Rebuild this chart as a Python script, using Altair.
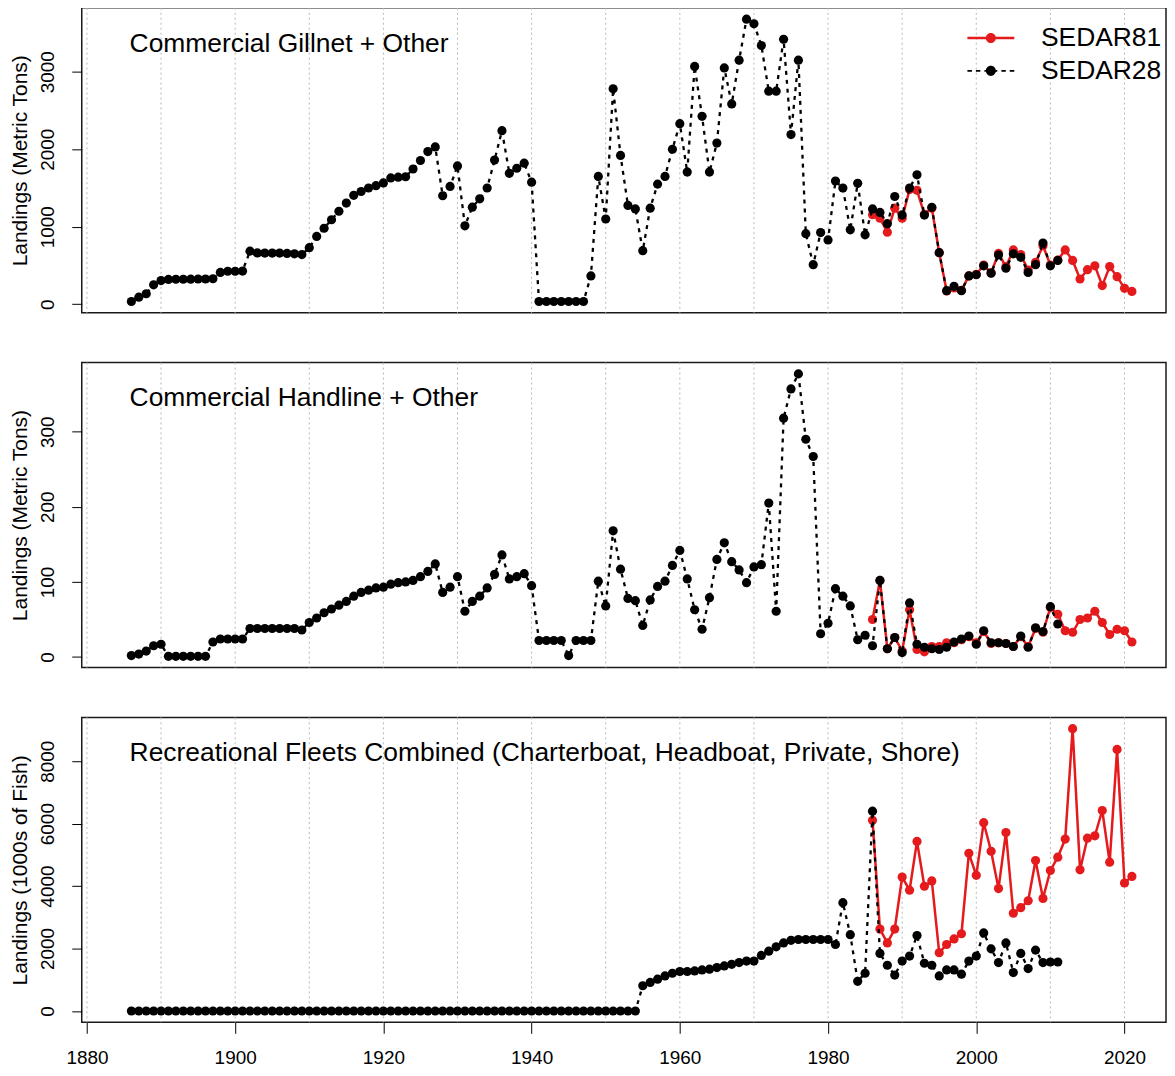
import altair as alt
import pandas as pd

FONT = "Liberation Sans"
RED = "#e41a1c"

# ---------------- data ----------------
years_s28 = list(range(1886, 2012))
years_s81 = list(range(1986, 2022))

gill_s28 = [
    35, 90, 135, 250, 305,
    320, 322, 322, 323, 325, 325, 328,
    410, 425, 425, 428,
    685, 662, 660, 660, 660, 655, 650, 640,
    730, 875, 980, 1090, 1200, 1305, 1405, 1455, 1500, 1530,
    1565, 1630, 1640, 1645, 1745, 1855, 1970, 2030, 1400, 1520,
    1785, 1012, 1253, 1360, 1500, 1860, 2240, 1690, 1755, 1820,
    1575, 35, 35, 35, 35, 35, 35, 35, 365, 1650,
    1100, 2780, 1920, 1275, 1230, 690, 1240, 1550, 1650, 2000,
    2330, 1705, 3070, 2425, 1705, 2080, 3050, 2585, 3150, 3680,
    3620, 3340, 2750, 2750, 3420, 2190, 3150, 910, 510, 925,
    830, 1590, 1500, 960, 1560, 895, 1230, 1185, 1040, 1390,
    1150, 1500, 1670, 1150, 1250, 665, 175, 230, 175, 365,
    380, 495, 400, 635, 465, 650, 605, 410, 510, 790,
    495, 565,
]
gill_s81 = [
    1155, 1110, 930, 1240, 1110, 1480, 1470, 1160, 1240, 665,
    170, 210, 180, 365, 385, 505, 405, 655, 485, 700,
    640, 440, 540, 755, 505, 570, 700, 565, 325, 445,
    495, 240, 485, 355, 205, 165,
]

hand_s28 = [
    2, 4, 8, 15, 17,
    1, 1, 1, 1, 1, 1, 20,
    24, 24, 24, 24,
    38, 38, 38, 38, 38, 38, 38, 36,
    46, 52, 59, 64, 69, 74, 81, 86, 89, 92,
    93, 97, 99, 100, 102, 107, 114, 124, 86, 93,
    107, 61, 74, 81, 92, 110, 136, 104, 107, 111,
    95, 22, 22, 22, 22, 2, 22, 22, 22, 101,
    68, 168, 117, 78, 75, 42, 76, 94, 101, 122,
    142, 104, 63, 37, 79, 130, 152, 127, 116, 99,
    120, 123, 205, 61, 318, 357, 377, 290, 267, 31,
    45, 91, 81, 68, 23, 29, 15, 102, 11, 26,
    6, 72, 17, 13, 11, 10, 13, 20, 24, 28,
    17, 35, 19, 19, 18, 14, 28, 13, 39, 34,
    67, 44,
]
hand_s81 = [
    50, 102, 11, 26, 8, 63, 10, 7, 14, 14,
    19, 19, 23, 27, 19, 34, 18, 19, 18, 14,
    27, 14, 38, 33, 66, 57, 35, 33, 50, 52,
    61, 46, 30, 37, 35, 20,
]

rec_s28 = [
    0, 0, 0, 0, 0, 0, 0, 0, 0, 0,
    0, 0, 0, 0, 0, 0, 0, 0, 0, 0,
    0, 0, 0, 0, 0, 0, 0, 0, 0, 0,
    0, 0, 0, 0, 0, 0, 0, 0, 0, 0,
    0, 0, 0, 0, 0, 0, 0, 0, 0, 0,
    0, 0, 0, 0, 0, 0, 0, 0, 0, 0,
    0, 0, 0, 0, 0, 0, 0, 0, 0,
    810, 915, 1020, 1125, 1210, 1265, 1265, 1285, 1315, 1340,
    1390, 1445, 1495, 1550, 1600, 1600, 1780, 1915, 2055, 2180,
    2265, 2290, 2290, 2290, 2290, 2290, 2130, 3470, 2445, 950,
    1210, 6400, 1845, 1465, 1150, 1600, 1760, 2415, 1530, 1465,
    1125, 1315, 1315, 1180, 1600, 1760, 2500, 1990, 1550, 2180,
    1230, 1845, 1360, 1950, 1550, 1570, 1570,
]
rec_s81 = [
    6105, 2625, 2180, 2625, 4290, 3870, 5430, 3995, 4165, 1865,
    2130, 2310, 2475, 5050, 4345, 6030, 5115, 3920, 5715, 3130,
    3310, 3530, 4820, 3605, 4500, 4925, 5505, 9040, 4520, 5535,
    5610, 6420, 4765, 8375, 4100, 4310,
]

series_names = ["SEDAR81", "SEDAR28"]
grid_years = list(range(1880, 2021, 10))
x_tick_years = list(range(1880, 2021, 20))
ticks_gill = [0, 1000, 2000, 3000]
ticks_hand = [0, 100, 200, 300]
ticks_rec = [0, 2000, 4000, 6000, 8000]

# ---------------- styling ----------------
X_DOMAIN = [1879.3, 2025.6]
W, H = 1088, 306

PATH_81 = ("M-1.96,-0.1H1.96V0.1H-1.96Z "
           "M0.42,0A0.42,0.42,0,1,1,-0.42,0A0.42,0.42,0,1,1,0.42,0Z")
PATH_28 = ("M-1.96,-0.07H-1.58V0.07H-1.96Z M-1.25,-0.07H-0.88V0.07H-1.25Z "
           "M-0.54,-0.07H0.54V0.07H-0.54Z M0.88,-0.07H1.25V0.07H0.88Z "
           "M1.58,-0.07H1.96V0.07H1.58Z "
           "M0.42,0A0.42,0.42,0,1,1,-0.42,0A0.42,0.42,0,1,1,0.42,0Z")


def make_x(show_axis):
    if show_axis:
        ax = alt.Axis(values=x_tick_years, format="d", title=None, grid=False,
                      domain=False, ticks=True, tickSize=11, tickColor="black",
                      tickWidth=1, labelFontSize=19, labelPadding=15,
                      labelColor="black", labelFont=FONT, labelFlush=False)
    else:
        ax = None
    return alt.X("year:Q", scale=alt.Scale(domain=X_DOMAIN, nice=False, zero=False), axis=ax)


def make_y(domain, ticks, title):
    return alt.Y(
        "value:Q",
        scale=alt.Scale(domain=domain, nice=False, zero=False),
        axis=alt.Axis(values=ticks, format="d", title=title, grid=False, domain=False,
                      tickSize=10, tickColor="black", tickWidth=1,
                      labelAngle=270, labelAlign="center", labelBaseline="bottom",
                      labelPadding=14, labelFontSize=19, labelColor="black", labelFont=FONT,
                      titleFontSize=21, titlePadding=8, titleFontWeight="normal",
                      titleColor="black", titleFont=FONT),
    )


def panel(v28, v81, ptitle, ytitle, ydomain, yticks, show_x, with_legend):
    d28 = pd.DataFrame({"year": years_s28, "value": v28})
    d81 = pd.DataFrame({"year": years_s81, "value": v81})
    x = make_x(show_x)
    y = make_y(ydomain, yticks, ytitle)
    grid = alt.Chart(pd.DataFrame({"year": grid_years})).mark_rule(
        color="#b8b8b8", strokeDash=[2, 3], strokeWidth=1).encode(x=x)
    l81 = alt.Chart(d81).mark_line(color=RED, strokeWidth=2.5).encode(x=x, y=y)
    p81 = alt.Chart(d81).mark_circle(color=RED, size=85, opacity=1).encode(x=x, y=y)
    l28 = alt.Chart(d28).mark_line(color="black", strokeWidth=2.3,
                                   strokeDash=[4, 5]).encode(x=x, y=y)
    p28 = alt.Chart(d28).mark_circle(color="black", size=85, opacity=1).encode(x=x, y=y)
    layers = [grid, l81, p81, l28, p28]
    if with_legend:
        leg = alt.Legend(title=None, orient="none", legendX=899, legendY=17,
                         labelFontSize=26.5, labelFont=FONT, labelColor="black",
                         labelOffset=37, rowPadding=6, padding=0, symbolSize=576,
                         symbolStrokeWidth=0, labelLimit=400)
        legend_layer = alt.Chart(
            pd.DataFrame({"series": series_names, "show": [0, 0]})
        ).transform_filter("datum.show > 0").mark_point(
            filled=True, opacity=1, size=576, strokeWidth=0
        ).encode(
            color=alt.Color("series:N", scale=alt.Scale(domain=series_names,
                                                         range=[RED, "black"]), legend=leg),
            shape=alt.Shape("series:N", scale=alt.Scale(domain=series_names,
                                                         range=[PATH_81, PATH_28]), legend=leg),
        )
        layers.append(legend_layer)
    return alt.layer(*layers).properties(
        width=W, height=H,
        title=alt.Title(ptitle, anchor="start", orient="top", frame="group", offset=-28,
                        dx=48, dy=43, baseline="alphabetic", fontSize=26.5, font=FONT,
                        fontWeight="normal", color="black"),
    )


p1 = panel(gill_s28, gill_s81, "Commercial Gillnet + Other", "Landings (Metric Tons)",
           [-111, 3826], ticks_gill, False, True)
p2 = panel(hand_s28, hand_s81, "Commercial Handline + Other", "Landings (Metric Tons)",
           [-14, 392], ticks_hand, False, False)
p3 = panel(rec_s28, rec_s81,
           "Recreational Fleets Combined (Charterboat, Headboat, Private, Shore)",
           "Landings (1000s of Fish)", [-362, 9402], ticks_rec, True, False)

chart = alt.vconcat(p1, p2, p3, spacing=46).resolve_scale(
    color="independent", shape="independent"
).properties(
    padding={"left": 1, "top": -4, "right": 0, "bottom": 0},
    background="white",
).configure(
    font=FONT,
    view=alt.ViewConfig(stroke="#1a1a1a", strokeWidth=1.5),
)

chart.save("out.html", embed_options={"renderer": "svg", "actions": False})
